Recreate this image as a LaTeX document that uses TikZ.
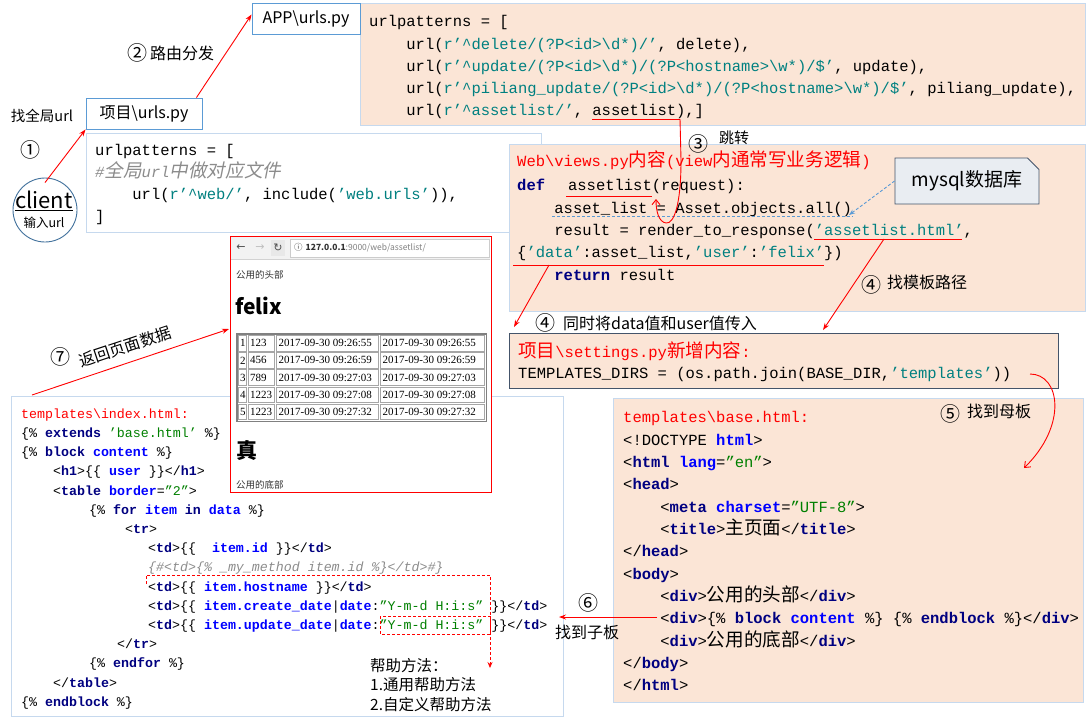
\documentclass[tikz,border=0pt]{standalone}
\usepackage{fontspec}
\setmainfont{Noto Sans CJK SC}
\setmonofont{Liberation Mono}
\newfontfamily\cjkc[Scale=1.2]{Noto Sans CJK SC}
\newfontfamily\cjks[Scale=1.2,FakeSlant=0.2]{Noto Sans CJK SC}
\newfontfamily\cellfont{Liberation Serif}
\newfontfamily\symfont{DejaVu Sans}
\usetikzlibrary{arrows.meta,shapes.misc}
\lineskiplimit=-100pt

\definecolor{peach}{HTML}{FBE5D6}
\definecolor{lineblue}{HTML}{C6D9EE}
\definecolor{boxblue}{HTML}{5B9BD5}
\definecolor{clientblue}{HTML}{41719C}
\definecolor{slate}{HTML}{44546A}
\definecolor{dbfill}{HTML}{E9EDF2}
\definecolor{strteal}{HTML}{008080}
\definecolor{kwnavy}{HTML}{000080}
\definecolor{attrblue}{HTML}{0000FF}
\definecolor{valgreen}{HTML}{008000}
\definecolor{cmtgray}{HTML}{8C8C8C}
\definecolor{barfill}{HTML}{F2F2F2}

\newcommand\zh[1]{{\cjkc #1}}
\newcommand\zhs[1]{{\cjks #1}}
\newcommand\cstr[1]{\textcolor{strteal}{#1}}
\newcommand\ckw[1]{\textcolor{kwnavy}{\bfseries #1}}
\newcommand\catt[1]{\textcolor{attrblue}{\bfseries #1}}
\newcommand\cval[1]{\textcolor{valgreen}{#1}}
\newcommand\ind{\hspace*{4\fontcharwd\font`x}}
\newcommand\bsl{\textbackslash}
\newcommand\crt{\textasciicircum}

\tikzset{
  codebox/.style={fill=peach, draw=lineblue, line width=0.8pt},
  whitebox/.style={fill=white, draw=lineblue, line width=0.8pt},
  setbox/.style={fill=peach, draw=slate, line width=0.9pt},
  code/.style={anchor=north west, inner sep=0pt, align=left, font=\ttfamily\fontsize{15.5}{22.3}\selectfont},
  filebox/.style={draw=boxblue, fill=white, line width=0.9pt, minimum height=31pt, inner sep=0pt, font=\fontsize{16}{18}\selectfont},
  lbl/.style={inner sep=0pt, font=\fontsize{16}{18}\selectfont},
  num/.style={inner sep=0pt, font=\fontsize{20}{22}\selectfont},
  redline/.style={red, line width=0.9pt},
  redarrow/.style={red, line width=0.9pt, -{Stealth[length=7pt,width=5pt]}},
  redcurve/.style={red, line width=0.9pt, -{Straight Barb[length=5pt,width=8pt]}},
  reddash/.style={red, line width=0.8pt, dash pattern=on 3pt off 2pt},
  bluedash/.style={boxblue, line width=0.9pt, dash pattern=on 3pt off 2pt},
  dbbox/.style={draw=slate, fill=dbfill, line width=0.9pt, chamfered rectangle, chamfered rectangle corners=north east, chamfered rectangle xsep=8pt, minimum width=144pt, minimum height=46pt, font=\fontsize{19}{21}\selectfont},
  cell/.style={draw=gray!70, line width=0.6pt},
  celltext/.style={anchor=west, inner sep=0pt, font=\cellfont\fontsize{11}{12}\selectfont},
  page/.style={anchor=west, inner sep=0pt, text=black!80}
}

\begin{document}
\begin{tikzpicture}[x=1pt,y=-1pt]
\useasboundingbox (0,0) rectangle (1091,724);
\fill[white] (0,0) rectangle (1091,724);

% app urls
\draw[codebox] (360,3) rectangle (1085,125);
\node[code] (urlcode) at (369,10.9) {\strut urlpatterns = [\\
\ind url(\cstr{r’\crt delete/(?P<id>\bsl d*)/’}, delete),\\
\ind url(\cstr{r’\crt update/(?P<id>\bsl d*)/(?P<hostname>\bsl w*)/\$’}, update),\\
\ind url(\cstr{r’\crt piliang\_update/(?P<id>\bsl d*)/(?P<hostname>\bsl w*)/\$’}, piliang\_update),\\
\ind url(\cstr{r’\crt assetlist/’}, assetlist),]};
\node[filebox, minimum width=108pt] (app) at (306,18.5) {APP\bsl urls.py};

% project urls
\draw[whitebox] (86,133) rectangle (541,232);
\node[code, font=\ttfamily\fontsize{15.5}{22}\selectfont] (glcode) at (95,140.1) {\strut urlpatterns = [\\
\textcolor{cmtgray}{\itshape\#\zhs{全局}url\zhs{中做对应文件}}\\
\ind url(\cstr{r’\crt web/’}, include(\cstr{’web.urls’})),\\
]};
\node[filebox, minimum width=116pt] (proj) at (144,113.5) {项目\bsl urls.py};

% client
\node[draw=clientblue, line width=0.9pt, circle, minimum size=64pt, inner sep=0pt] (client) at (45,210) {};
\node[inner sep=0pt, font=\fontsize{22}{24}\selectfont] (clientt) at (44,201) {\underline{client}};
\node[inner sep=0pt, font=\fontsize{12.5}{14}\selectfont] (clientu) at (44,223) {输入url};
\node[lbl, font=\fontsize{14.5}{16}\selectfont] (findurl) at (42,116) {找全局url};
\node[num] (n1) at (30,150) {①};
\draw[redarrow] ([yshift=-5pt]client.north) -- (proj.south west);

\node[num] (n2) at (137,53) {②};
\node[lbl, anchor=west] (route) at (150,53) {路由分发};
\draw[redarrow] ([xshift=-6pt]proj.north east) -- ([yshift=4pt]app.west);

% views
\draw[codebox] (509,144) rectangle (1085,311);
\node[code] (vwcode) at (517,150.9) {\strut\textcolor{red}{Web\bsl views.py\zh{内容}(view\zh{内通常写业务逻辑})}\\[1.7pt]
\ckw{def}\hspace*{23pt}assetlist(request):\\
\ind asset\_list = Asset.objects.all()\\
\ind result = render\_to\_response(\cstr{’assetlist.html’},\\
\{\cstr{’data’}:asset\_list,\cstr{’user’}:\cstr{’felix’}\})\\
\ind\ckw{return} result};
\draw[redline] (566,196) -- (652,196);
\draw[redline] (814,239) -- (962,239);
\draw[redline] (513,265) -- (824,265);
\draw[bluedash] (552,216) -- (853,216);

% jump
\coordinate (ulA) at (680,119);
\coordinate (defA) at (656,199);
\draw[redline] (592,119) -- (ulA);
\draw[redcurve] (ulA) -- (681,160) .. controls (681,205) and (674,224) .. (666,223) .. controls (659,222) and (656,212) .. (defA);
\node[num] (n3) at (698,144) {③};
\node[lbl, anchor=west, font=\fontsize{15}{17}\selectfont] (jump) at (719,138) {跳转};

% database
\node[dbbox] (db) at (967,181) {mysql数据库};
\coordinate (dbEnd) at (849,215);
\draw[bluedash, -{Stealth[length=6pt,width=4.5pt]}] (db.west) -- (dbEnd);

% settings
\draw[setbox] (509,333) rectangle (1058,388);
\node[code, font=\ttfamily\fontsize{15.5}{21}\selectfont] (stcode) at (518,341.8) {\strut\textcolor{red}{\zh{项目}\bsl settings.py\zh{新增内容}:}\\
TEMPLATES\_DIRS = (os.path.join(BASE\_DIR,\cstr{’templates’}))};
\coordinate (ulD) at (549,265);
\coordinate (stA) at (514,327);
\draw[redarrow] (ulD) -- (stA);
\coordinate (ulH) at (884,239);
\coordinate (stB) at (823,330);
\draw[redarrow] (ulH) -- (stB);
\node[num] (n4a) at (545,323) {④};
\node[lbl, anchor=west] (pass) at (563,323) {同时将data值和user值传入};
\node[num] (n4b) at (871,285) {④};
\node[lbl, anchor=west] (tpl) at (887,282) {找模板路径};

% base.html
\draw[codebox] (613,398) rectangle (1083,702);
\node[code, font=\ttfamily\fontsize{15.5}{22.33}\selectfont] (bscode) at (623,406.9) {\strut\textcolor{red}{templates\bsl base.html:}\\
<!DOCTYPE \catt{html}>\\
<\ckw{html} \catt{lang}=\cval{”en”}>\\
<\ckw{head}>\\
\ind<\ckw{meta} \catt{charset}=\cval{”UTF-8”}>\\
\ind<\ckw{title}>\zh{主页面}</\ckw{title}>\\
</\ckw{head}>\\
<\ckw{body}>\\
\ind<\ckw{div}>\zh{公用的头部}</\ckw{div}>\\
\ind<\ckw{div}>\{\% \ckw{block} \catt{content} \%\} \{\% \ckw{endblock} \%\}</\ckw{div}>\\
\ind<\ckw{div}>\zh{公用的底部}</\ckw{div}>\\
</\ckw{body}>\\
</\ckw{html}>};
\coordinate (stC) at (1030,374);
\coordinate (bsA) at (1024,468);
\draw[redcurve] (stC) .. controls (1060,374) and (1068,425) .. (bsA);
\node[num] (n5) at (950,414) {⑤};
\node[lbl, anchor=west] (mother) at (967,411) {找到母板};

% index.html
\draw[whitebox] (11,396) rectangle (563,716);
\node[code, font=\ttfamily\fontsize{13.3}{19.2}\selectfont] (ixcode) at (21,404.6) {\strut\textcolor{red}{templates\bsl index.html:}\\
\{\% \ckw{extends} \cval{’base.html’} \%\}\\
\{\% \ckw{block} \catt{content} \%\}\\
\hspace*{32pt}<\ckw{h1}>\{\{ \catt{user} \}\}</\ckw{h1}>\\
\hspace*{32pt}<\ckw{table} \catt{border}=\cval{”2”}>\\
\hspace*{68pt}\{\% \ckw{for} \catt{item} \ckw{in} \catt{data} \%\}\\
\hspace*{104pt}<\ckw{tr}>\\
\hspace*{127pt}<\ckw{td}>\{\{~ \catt{item.id} \}\}</\ckw{td}>\\
\hspace*{127pt}\textcolor{cmtgray}{\itshape\{\#<td>\{\% \_my\_method item.id \%\}</td>\#\}}\\
\hspace*{127pt}<\ckw{td}>\{\{ \catt{item.hostname} \}\}</\ckw{td}>\\
\hspace*{127pt}<\ckw{td}>\{\{ \catt{item.create\_date}|\catt{date}:\cval{”Y-m-d H:i:s”} \}\}</\ckw{td}>\\
\hspace*{127pt}<\ckw{td}>\{\{ \catt{item.update\_date}|\catt{date}:\cval{”Y-m-d H:i:s”} \}\}</\ckw{td}>\\
\hspace*{96pt}</\ckw{tr}>\\
\hspace*{68pt}\{\% \ckw{endfor} \%\}\\
\hspace*{32pt}</\ckw{table}>\\
\{\% \ckw{endblock} \%\}};
\coordinate (hlp) at (490,668);
\draw[reddash, -{Stealth[length=6pt,width=5pt]}] (146,584) -- (146,575) -- (490,575) -- (hlp);
\draw[reddash] (380,616) rectangle (490,634);
\node[lbl, anchor=north west, align=left, font=\fontsize{15.5}{19.5}\selectfont] (help) at (370,657.3) {\strut 帮助方法：\\1.通用帮助方法\\2.自定义帮助方法};
\coordinate (bsB) at (657,617);
\coordinate (ixA) at (559,617);
\draw[redarrow] (bsB) -- (ixA);
\node[num] (n6) at (588,603) {⑥};
\node[lbl] (child) at (587,632) {找到子板};

% page shown in the browser
\node[draw=red, line width=1pt, fill=white, minimum width=261pt, minimum height=256pt, inner sep=0pt] (shot) at (360.5,364) {};
\fill[barfill] (231,237) rectangle (490,259);
\draw[gray!35] (231,259) -- (490,259);
\fill[gray!18] (271,240) rectangle (285,256);
\node[inner sep=0pt, font=\symfont\fontsize{11}{12}\selectfont, text=black!70] (goback) at (241,248) {←};
\node[inner sep=0pt, font=\symfont\fontsize{11}{12}\selectfont, text=black!25] (gofwd) at (260,248) {→};
\node[inner sep=0pt, font=\symfont\fontsize{11}{12}\selectfont, text=black!70] (reload) at (278,248) {↻};
\draw[gray!40, fill=white] (290,239) rectangle (489,257);
\node[page, font=\fontsize{8.5}{10}\selectfont] (addr) at (294,248) {ⓘ\hspace{3pt}\textbf{127.0.0.1}\textcolor{gray}{:9000/web/assetlist/}};
\node[page, font=\fontsize{9.5}{11}\selectfont] (head) at (236,275) {公用的头部};
\node[page, text=black, font=\bfseries\fontsize{21}{23}\selectfont] (felix) at (235,306) {felix};
\draw[gray, line width=1.5pt] (236.75,333.75) rectangle (486.25,421.25);
\foreach \k/\hst/\tm in {1/123/26:55,2/456/26:59,3/789/27:03,4/1223/27:08,5/1223/27:32}{
  \pgfmathsetmacro\yt{335.5+(\k-1)*17.1}
  \pgfmathsetmacro\ym{\yt+7.8}
  \draw[cell] (238.5,\yt) rectangle (246.5,\yt+15.4);
  \draw[cell] (248.5,\yt) rectangle (274.5,\yt+15.4);
  \draw[cell] (276.5,\yt) rectangle (378.5,\yt+15.4);
  \draw[cell] (380.5,\yt) rectangle (484.5,\yt+15.4);
  \node[celltext] (id\k) at (240,\ym) {\k};
  \node[celltext] (hn\k) at (250,\ym) {\hst};
  \node[celltext] (cd\k) at (278.5,\ym) {2017-09-30 09:\tm};
  \node[celltext] (ud\k) at (382.5,\ym) {2017-09-30 09:\tm};
}
\node[page, text=black, font=\bfseries\fontsize{21}{23}\selectfont] (zhen) at (236,450) {真};
\node[page, font=\fontsize{9.5}{11}\selectfont] (foot) at (236,485) {公用的底部};

% back to the client
\coordinate (ixB) at (32,395);
\coordinate (shotIn) at (229,329);
\draw[redarrow] (ixB) -- (shotIn);
\node[num] (n7) at (60,357) {⑦};
\node[lbl, rotate=18.4] (ret) at (125,347) {返回页面数据};
\end{tikzpicture}
\end{document}
